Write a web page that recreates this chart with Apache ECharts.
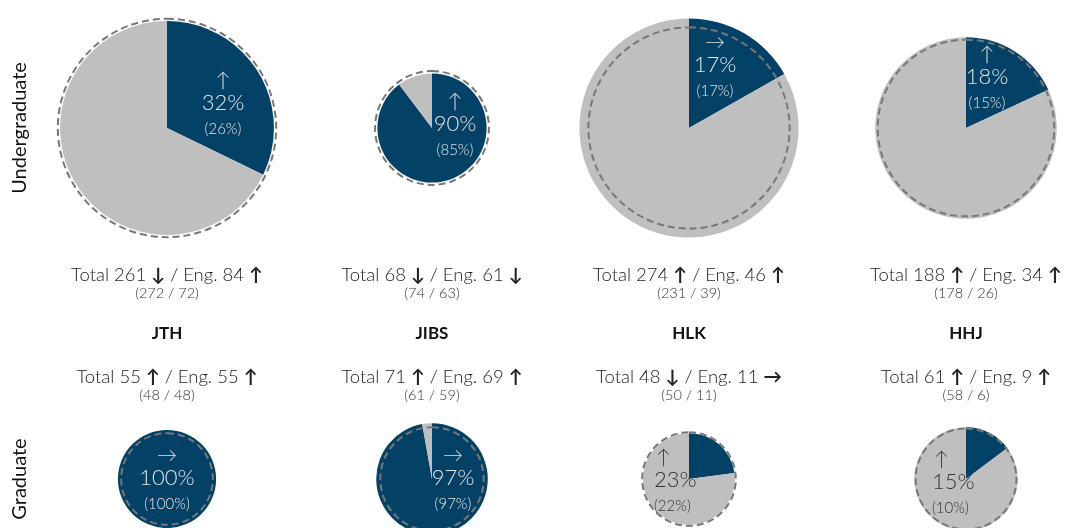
<!DOCTYPE html>
<html>
<head>
<meta charset="utf-8">
<script src="https://cdn.jsdelivr.net/npm/echarts@6/dist/echarts.min.js"></script>
<style>html,body{margin:0;padding:0;background:#fff}#c{width:1065px;height:528px}</style>
</head>
<body>
<div id="c"></div>
<script>
// ---- data ----
const schools = ['JTH', 'JIBS', 'HLK', 'HHJ'];
const levels = ['Undergraduate', 'Graduate'];
// current year totals / English-taught
const ugTotal = [261, 68, 274, 188];
const ugEng = [84, 61, 46, 34];
const ugPrevTotal = [272, 74, 231, 178];
const ugPrevEng = [72, 63, 39, 26];
const ugPct = ['32%', '90%', '17%', '18%'];
const ugPrevPct = ['(26%)', '(85%)', '(17%)', '(15%)'];
const ugPctTrend = ['↑', '↑', '→', '↑'];
const ugTotalTrend = ['↓', '↓', '↑', '↑'];
const ugEngTrend = ['↑', '↓', '↑', '↑'];

const gTotal = [55, 71, 48, 61];
const gEng = [55, 69, 11, 9];
const gPrevTotal = [48, 61, 50, 58];
const gPrevEng = [48, 59, 11, 6];
const gPct = ['100%', '97%', '23%', '15%'];
const gPrevPct = ['(100%)', '(97%)', '(22%)', '(10%)'];
const gPctTrend = ['→', '→', '↑', '↑'];
const gTotalTrend = ['↑', '↑', '↓', '↑'];
const gEngTrend = ['↑', '↑', '→', '↑'];

// ---- layout ----
const colX = [167, 432, 689, 966];
const rowY = [128, 479];
const K = 6.62; // radius per sqrt(student)
const BLUE = '#034166', GREY = '#bfbfbf';
const FONT = 'Lato, "DejaVu Sans", sans-serif';
// label offsets (relative to pie centre) for the percentage line
const ugLab = [[56, -25, 'center', '#e4e4e4'], [23, -4, 'center', '#e4e4e4'], [26, -63, 'center', '#e4e4e4'], [21, -51, 'center', '#e4e4e4']];
const gLab = [[0, -1, 'center', '#e4e4e4'], [21, -1, 'center', '#e4e4e4'], [-35, 1, 'left', '#333'], [-34, 3, 'left', '#333']];

const series = [];
const graphic = [];

function addCell(i, row, total, eng, prevTotal, pct, prevPct, trend, lab) {
  const c = [colX[i], rowY[row]];
  series.push({
    type: 'pie', center: c, radius: K * Math.sqrt(total), startAngle: 90, clockwise: true,
    silent: true, animation: false, label: { show: false }, labelLine: { show: false },
    itemStyle: { borderWidth: 0 }, z: 2,
    data: [
      { value: eng, itemStyle: { color: BLUE } },
      { value: total - eng, itemStyle: { color: GREY } }
    ]
  });
  series.push({
    type: 'pie', center: c, radius: K * Math.sqrt(prevTotal), startAngle: 90,
    silent: true, animation: false, label: { show: false }, labelLine: { show: false }, z: 3,
    data: [{ value: 1, itemStyle: { color: 'rgba(0,0,0,0)', borderColor: '#777', borderWidth: 2, borderType: [7, 4] } }]
  });
  const [dx, dy, align, col] = lab;
  const x = c[0] + dx, y = c[1] + dy;
  const ax = align === 'left' ? x + 2 : x;
  graphic.push({ type: 'text', z: 10, style: { text: trend, x: ax, y: y - 22, align: align, verticalAlign: 'middle', font: '300 20px ' + FONT, fill: col } });
  graphic.push({ type: 'text', z: 10, style: { text: pct, x: x, y: y, align: align, verticalAlign: 'middle', font: '300 22px ' + FONT, fill: col } });
  graphic.push({ type: 'text', z: 10, style: { text: prevPct, x: x, y: y + 26, align: align, verticalAlign: 'middle', font: '300 15px ' + FONT, fill: col } });
}

function addTotals(i, y, total, tTr, eng, eTr, prevTotal, prevEng) {
  graphic.push({
    type: 'text', z: 10, style: {
      text: '{a|Total ' + total + ' }{b|' + tTr + '}{a| / Eng. ' + eng + ' }{b|' + eTr + '}',
      x: colX[i], y: y, align: 'center', verticalAlign: 'middle',
      rich: {
        a: { font: '300 18.5px ' + FONT, fill: '#222' },
        b: { font: 'bold 18.5px ' + FONT, fill: '#222' }
      }
    }
  });
  graphic.push({ type: 'text', z: 10, style: { text: '(' + prevTotal + ' / ' + prevEng + ')', x: colX[i], y: y + 18, align: 'center', verticalAlign: 'middle', font: '300 14.5px ' + FONT, fill: '#333' } });
}

for (let i = 0; i < schools.length; i++) {
  addCell(i, 0, ugTotal[i], ugEng[i], ugPrevTotal[i], ugPct[i], ugPrevPct[i], ugPctTrend[i], ugLab[i]);
  addCell(i, 1, gTotal[i], gEng[i], gPrevTotal[i], gPct[i], gPrevPct[i], gPctTrend[i], gLab[i]);
  addTotals(i, 275, ugTotal[i], ugTotalTrend[i], ugEng[i], ugEngTrend[i], ugPrevTotal[i], ugPrevEng[i]);
  addTotals(i, 377, gTotal[i], gTotalTrend[i], gEng[i], gEngTrend[i], gPrevTotal[i], gPrevEng[i]);
  graphic.push({ type: 'text', z: 10, style: { text: schools[i], x: colX[i], y: 334, align: 'center', verticalAlign: 'middle', font: 'bold 17px ' + FONT, fill: '#111' } });
}
for (let r = 0; r < levels.length; r++) {
  graphic.push({ type: 'text', z: 10, x: 20, y: rowY[r], rotation: Math.PI / 2, style: { text: levels[r], x: 0, y: 0, align: 'center', verticalAlign: 'middle', font: '20px ' + FONT, fill: '#111' } });
}

const chart = echarts.init(document.getElementById('c'), null, { renderer: 'canvas' });
chart.setOption({ animation: false, backgroundColor: '#fff', series: series, graphic: graphic });
</script>
</body>
</html>
